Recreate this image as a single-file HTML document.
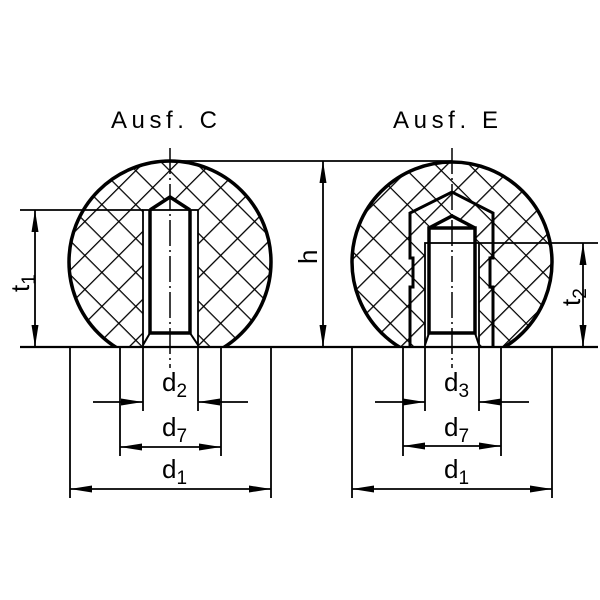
<!DOCTYPE html>
<html><head><meta charset="utf-8"><style>
html,body{margin:0;padding:0;background:#fff}
svg{display:block}
text{font-family:"Liberation Sans",sans-serif;fill:#000}
</style></head><body>
<svg width="600" height="600" viewBox="0 0 600 600" xmlns="http://www.w3.org/2000/svg">
<defs>
<pattern id="h" width="24" height="24" patternUnits="userSpaceOnUse" patternTransform="rotate(45 0 0)">
<line x1="0" y1="0" x2="0" y2="24" stroke="#000" stroke-width="2.6"/>
<line x1="0" y1="0" x2="24" y2="0" stroke="#000" stroke-width="2.6"/>
</pattern>
<clipPath id="cl"><rect x="0" y="0" width="600" height="347"/></clipPath>
<marker id="a" viewBox="0 0 22 8" refX="22" refY="4" markerWidth="22" markerHeight="8" markerUnits="userSpaceOnUse" orient="auto"><path d="M0,0.5 L22,4 L0,7.5 z" fill="#000"/></marker>
</defs>
<g clip-path="url(#cl)">
<circle cx="170" cy="262" r="101" fill="url(#h)" stroke="#000" stroke-width="3.5"/>
<circle cx="452" cy="262" r="100" fill="url(#h)" stroke="#000" stroke-width="3.5"/>
</g>
<polygon points="143,347 143,210 150,210 170,197 190,210 198,210 198,347" fill="#fff"/>
<rect x="143" y="210" width="55" height="137" fill="none" stroke="#000" stroke-width="1.8"/>
<path d="M150,210 L150,333 L190,333 L190,210 M150,210 L170,197 L190,210" fill="none" stroke="#000" stroke-width="3.5"/>
<path d="M150,333 L143,345 M190,333 L198,345" stroke="#000" stroke-width="2"/>
<path d="M410,347 L410,287 L413,287 L413,258 L410,258 L410,213 L452,192 L493,213 L493,258 L490,258 L490,287 L493,287 L493,347" fill="none" stroke="#000" stroke-width="3"/>
<polygon points="425,347 425,243 429,243 429,228 452,216 475,228 475,243 479,243 479,347" fill="#fff"/>
<rect x="425" y="243" width="54" height="104" fill="none" stroke="#000" stroke-width="1.8"/>
<path d="M429,228 L429,333 L475,333 L475,228 Z M429,228 L452,216 L475,228" fill="none" stroke="#000" stroke-width="3.5"/>
<path d="M429,333 L425,345 M475,333 L479,345" stroke="#000" stroke-width="2"/>
<line x1="170" y1="148" x2="170" y2="368" stroke="#000" stroke-width="1.5" stroke-dasharray="26,4,2,4"/>
<line x1="452" y1="148" x2="452" y2="368" stroke="#000" stroke-width="1.5" stroke-dasharray="26,4,2,4"/>
<line x1="20" y1="347" x2="598" y2="347" stroke="#000" stroke-width="2.2"/>
<g stroke="#000" stroke-width="1.8" fill="none">
<line x1="170" y1="161" x2="452" y2="161"/>
<line x1="20" y1="210" x2="143" y2="210"/>
<line x1="479" y1="243" x2="598" y2="243"/>
<line x1="35" y1="278" x2="35" y2="210" marker-end="url(#a)"/>
<line x1="35" y1="278" x2="35" y2="347" marker-end="url(#a)"/>
<line x1="323" y1="254" x2="323" y2="161" marker-end="url(#a)"/>
<line x1="323" y1="254" x2="323" y2="347" marker-end="url(#a)"/>
<line x1="583" y1="295" x2="583" y2="243" marker-end="url(#a)"/>
<line x1="583" y1="295" x2="583" y2="347" marker-end="url(#a)"/>
<line x1="70" y1="347" x2="70" y2="498"/>
<line x1="271" y1="347" x2="271" y2="498"/>
<line x1="120" y1="347" x2="120" y2="456"/>
<line x1="221" y1="347" x2="221" y2="456"/>
<line x1="143" y1="347" x2="143" y2="411"/>
<line x1="198" y1="347" x2="198" y2="411"/>
<line x1="93" y1="402" x2="143" y2="402" marker-end="url(#a)"/>
<line x1="248" y1="402" x2="198" y2="402" marker-end="url(#a)"/>
<line x1="170" y1="447" x2="120" y2="447" marker-end="url(#a)"/>
<line x1="170" y1="447" x2="221" y2="447" marker-end="url(#a)"/>
<line x1="170" y1="489" x2="70" y2="489" marker-end="url(#a)"/>
<line x1="170" y1="489" x2="271" y2="489" marker-end="url(#a)"/>
<line x1="352" y1="347" x2="352" y2="498"/>
<line x1="552" y1="347" x2="552" y2="498"/>
<line x1="403" y1="347" x2="403" y2="456"/>
<line x1="501" y1="347" x2="501" y2="456"/>
<line x1="425" y1="347" x2="425" y2="411"/>
<line x1="479" y1="347" x2="479" y2="411"/>
<line x1="375" y1="402" x2="425" y2="402" marker-end="url(#a)"/>
<line x1="529" y1="402" x2="479" y2="402" marker-end="url(#a)"/>
<line x1="452" y1="446" x2="403" y2="446" marker-end="url(#a)"/>
<line x1="452" y1="446" x2="501" y2="446" marker-end="url(#a)"/>
<line x1="452" y1="489" x2="352" y2="489" marker-end="url(#a)"/>
<line x1="452" y1="489" x2="552" y2="489" marker-end="url(#a)"/>
</g>
<text x="111" y="128" font-size="24" textLength="106" lengthAdjust="spacing">Ausf. C</text>
<text x="393" y="128" font-size="24" textLength="105" lengthAdjust="spacing">Ausf. E</text>
<text x="162" y="391" font-size="26">d<tspan font-size="19" dy="6">2</tspan></text>
<text x="162" y="436" font-size="26">d<tspan font-size="19" dy="6">7</tspan></text>
<text x="162" y="478" font-size="26">d<tspan font-size="19" dy="6">1</tspan></text>
<text x="444" y="391" font-size="26">d<tspan font-size="19" dy="6">3</tspan></text>
<text x="444" y="436" font-size="26">d<tspan font-size="19" dy="6">7</tspan></text>
<text x="444" y="478" font-size="26">d<tspan font-size="19" dy="6">1</tspan></text>
<text transform="translate(29,292) rotate(-90)" font-size="26">t<tspan font-size="19" dy="6">1</tspan></text>
<text transform="translate(317,264) rotate(-90)" font-size="26">h</text>
<text transform="translate(580,306) rotate(-90)" font-size="26">t<tspan font-size="19" dy="6">2</tspan></text>
</svg>
</body></html>
